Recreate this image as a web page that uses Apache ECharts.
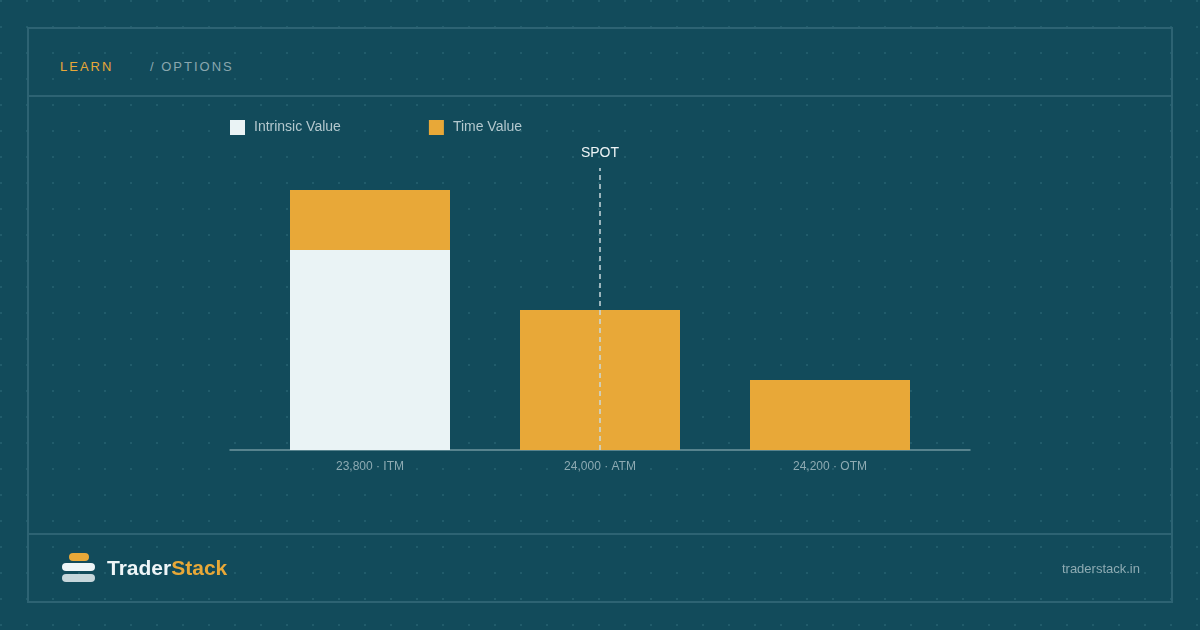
<!DOCTYPE html>
<html>
<head>
<meta charset="utf-8">
<script src="https://cdn.jsdelivr.net/npm/echarts@6/dist/echarts.min.js"></script>
<style>
    html, body {
        margin: 0;
        padding: 0;
    }
    body {
        width: 1200px;
        height: 630px;
        position: relative;
        overflow: hidden;
        background-color: #124b5b;
        background-image: radial-gradient(circle, #215c6b 0.9px, transparent 1.2px);
        background-size: 26px 26px;
        background-position: -12px -12px;
        font-family: 'Liberation Sans', Arial, sans-serif;
    }
    .frame {
        position: absolute;
        left: 27px;
        top: 27px;
        width: 1142px;
        height: 572px;
        border: 2px solid #2d6373;
    }
    .rule {
        position: absolute;
        left: 27px;
        width: 1146px;
        height: 2px;
        background: #2d6373;
    }
    .crumb {
        position: absolute;
        top: 59px;
        font-size: 13px;
        letter-spacing: 2px;
    }
    #chart {
        position: absolute;
        left: 0;
        top: 0;
        width: 1200px;
        height: 630px;
    }
    .logo span {
        position: absolute;
        border-radius: 4px;
    }
    .brand {
        position: absolute;
        left: 107px;
        top: 556px;
        font-size: 21px;
        font-weight: bold;
        color: #eef5f7;
    }
    .site {
        position: absolute;
        right: 60px;
        top: 561px;
        font-size: 13px;
        color: #8eabb3;
    }
</style>
</head>
<body>
<div class="frame"></div>
<div class="rule" style="top:95px"></div>
<div class="rule" style="top:533px"></div>
<div class="crumb" style="left:60px;color:#e8a838">LEARN</div>
<div class="crumb" style="left:150px;color:#8aa7af">/ OPTIONS</div>
<div id="chart"></div>
<div class="logo">
    <span style="left:69px;top:553px;width:20px;height:8px;background:#e8a838"></span>
    <span style="left:62px;top:563px;width:33px;height:8px;background:#eef5f7"></span>
    <span style="left:62px;top:574px;width:33px;height:8px;background:#c6d6db"></span>
</div>
<div class="brand">Trader<span style="color:#e8a838">Stack</span></div>
<div class="site">traderstack.in</div>
<script>
// 数据
const categories = ['23,800 · ITM', '24,000 · ATM', '24,200 · OTM'];
const intrinsicValue = [200, 0, 0];
const timeValue = [60, 140, 70];
const spotStrike = '24,000 · ATM';

const chart = echarts.init(document.getElementById('chart'), null, { renderer: 'canvas' });

chart.setOption({
    backgroundColor: 'transparent',
    animation: false,
    textStyle: {
        fontFamily: 'Liberation Sans, Arial, sans-serif'
    },
    legend: {
        left: 225,
        top: 115,
        icon: 'rect',
        itemWidth: 15,
        itemHeight: 15,
        itemGap: 88,
        textStyle: {
            color: '#b3c8ce',
            fontSize: 14,
            padding: [0, 0, 0, 4]
        },
        data: ['Intrinsic Value', 'Time Value']
    },
    grid: [
        { left: 255, right: 255, top: 168, bottom: 180 },
        // 基线比柱区宽一些
        { left: 230, right: 230, top: 168, bottom: 180 }
    ],
    xAxis: [
        {
            type: 'category',
            gridIndex: 0,
            data: categories,
            axisLine: { show: false },
            axisTick: { show: false },
            axisLabel: {
                color: '#8eabb3',
                fontSize: 12,
                margin: 11
            }
        },
        {
            type: 'value',
            gridIndex: 1,
            min: 0,
            max: 1,
            axisLine: {
                show: true,
                lineStyle: { color: '#6f96a0', width: 1.5 }
            },
            axisTick: { show: false },
            axisLabel: { show: false },
            splitLine: { show: false }
        }
    ],
    yAxis: [
        {
            type: 'value',
            gridIndex: 0,
            min: 0,
            max: 282,
            show: false
        },
        {
            type: 'value',
            gridIndex: 1,
            min: 0,
            max: 1,
            show: false
        }
    ],
    series: [
        {
            name: 'Intrinsic Value',
            type: 'bar',
            stack: 'premium',
            barWidth: 160,
            itemStyle: { color: '#eaf3f5' },
            data: intrinsicValue
        },
        {
            name: 'Time Value',
            type: 'bar',
            stack: 'premium',
            barWidth: 160,
            itemStyle: { color: '#e8a838' },
            data: timeValue,
            markLine: {
                silent: true,
                symbol: 'none',
                lineStyle: {
                    color: '#c9d9dd',
                    type: [5, 4],
                    width: 1.5
                },
                label: {
                    show: true,
                    position: 'end',
                    formatter: 'SPOT',
                    color: '#eef4f6',
                    fontSize: 14,
                    distance: 8
                },
                data: [{ xAxis: spotStrike }]
            }
        }
    ]
});
</script>
</body>
</html>
